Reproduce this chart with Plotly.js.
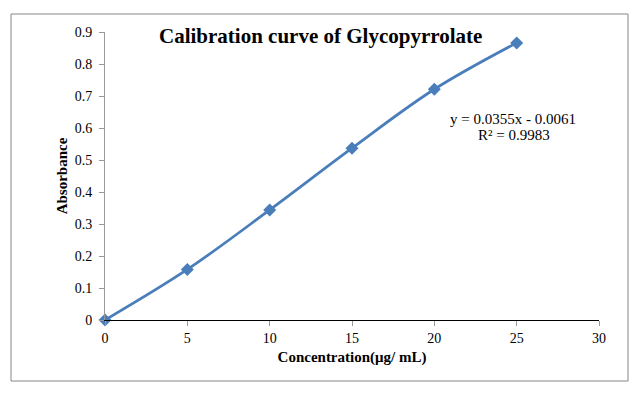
<!DOCTYPE html>
<html>
<head>
<meta charset="utf-8">
<script src="https://cdn.plot.ly/plotly-3.0.1.min.js"></script>
<style>
  html, body { margin: 0; padding: 0; background: #fff; }
  #chart { width: 636px; height: 397px; }
</style>
</head>
<body>
<div id="chart"></div>
<script>
const concentration = [0, 5, 10, 15, 20, 25];
const absorbance = [0, 0.158, 0.344, 0.537, 0.721, 0.866];
const xTicks = [0, 5, 10, 15, 20, 25, 30];
const yTicks = [0, 0.1, 0.2, 0.3, 0.4, 0.5, 0.6, 0.7, 0.8, 0.9];
const yTickText = ['0', '0.1', '0.2', '0.3', '0.4', '0.5', '0.6', '0.7', '0.8', '0.9'];
const equationText = 'y = 0.0355x - 0.0061';
const rSquaredText = 'R² = 0.9983';
const chartTitle = 'Calibration curve of Glycopyrrolate';

const serif = 'Liberation Serif, Times New Roman, serif';
const blue = '#4a7ebb';

const trace = {
  x: concentration,
  y: absorbance,
  type: 'scatter',
  mode: 'lines+markers',
  line: { color: blue, width: 2.75, shape: 'spline', smoothing: 1 },
  marker: { symbol: 'diamond', size: 10, color: blue },
  hoverinfo: 'skip',
  cliponaxis: false
};

const px = (p) => (p - 105) / 494;
const py = (p) => (320 - p) / 288;

const layout = {
  width: 636,
  height: 397,
  margin: { l: 105, r: 37, t: 32, b: 77 },
  paper_bgcolor: '#fff',
  plot_bgcolor: '#fff',
  showlegend: false,
  font: { family: serif, size: 14, color: '#000' },
  xaxis: {
    range: [0, 30],
    tickvals: xTicks,
    ticktext: xTicks.map(String),
    showgrid: false,
    zeroline: false,
    showline: true,
    linecolor: '#000',
    linewidth: 1,
    ticks: 'outside',
    ticklen: 5,
    tickcolor: '#999',
    tickfont: { family: serif, size: 14, color: '#000' },
    title: { text: '<b>Concentration(μg/ mL)</b>', font: { family: serif, size: 15, color: '#000' }, standoff: 6 }
  },
  yaxis: {
    range: [0, 0.9],
    tickvals: yTicks,
    ticktext: yTickText,
    showgrid: false,
    zeroline: false,
    showline: true,
    linecolor: '#999',
    linewidth: 1,
    ticks: 'outside',
    ticklen: 5,
    tickcolor: '#999',
    ticklabelstandoff: 4,
    tickfont: { family: serif, size: 14, color: '#000' },
    title: { text: '<b>Absorbance</b>', font: { family: serif, size: 15, color: '#000' }, standoff: 3 }
  },
  annotations: [
    {
      text: '<b>' + chartTitle + '</b>',
      xref: 'paper', yref: 'paper',
      x: px(320), y: py(36),
      xanchor: 'center', yanchor: 'middle',
      showarrow: false,
      font: { family: serif, size: 21, color: '#000' }
    },
    {
      text: equationText,
      xref: 'paper', yref: 'paper',
      x: px(513), y: py(119),
      xanchor: 'center', yanchor: 'middle',
      showarrow: false,
      font: { family: serif, size: 15, color: '#000' }
    },
    {
      text: rSquaredText,
      xref: 'paper', yref: 'paper',
      x: px(514), y: py(135),
      xanchor: 'center', yanchor: 'middle',
      showarrow: false,
      font: { family: serif, size: 15, color: '#000' }
    }
  ],
  shapes: [
    {
      type: 'rect', xref: 'paper', yref: 'paper',
      x0: px(11), x1: px(628),
      y0: py(381), y1: py(14),
      line: { color: '#868686', width: 1 },
      fillcolor: 'rgba(0,0,0,0)'
    }
  ]
};

Plotly.newPlot('chart', [trace], layout, { displayModeBar: false, staticPlot: true });
</script>
</body>
</html>
